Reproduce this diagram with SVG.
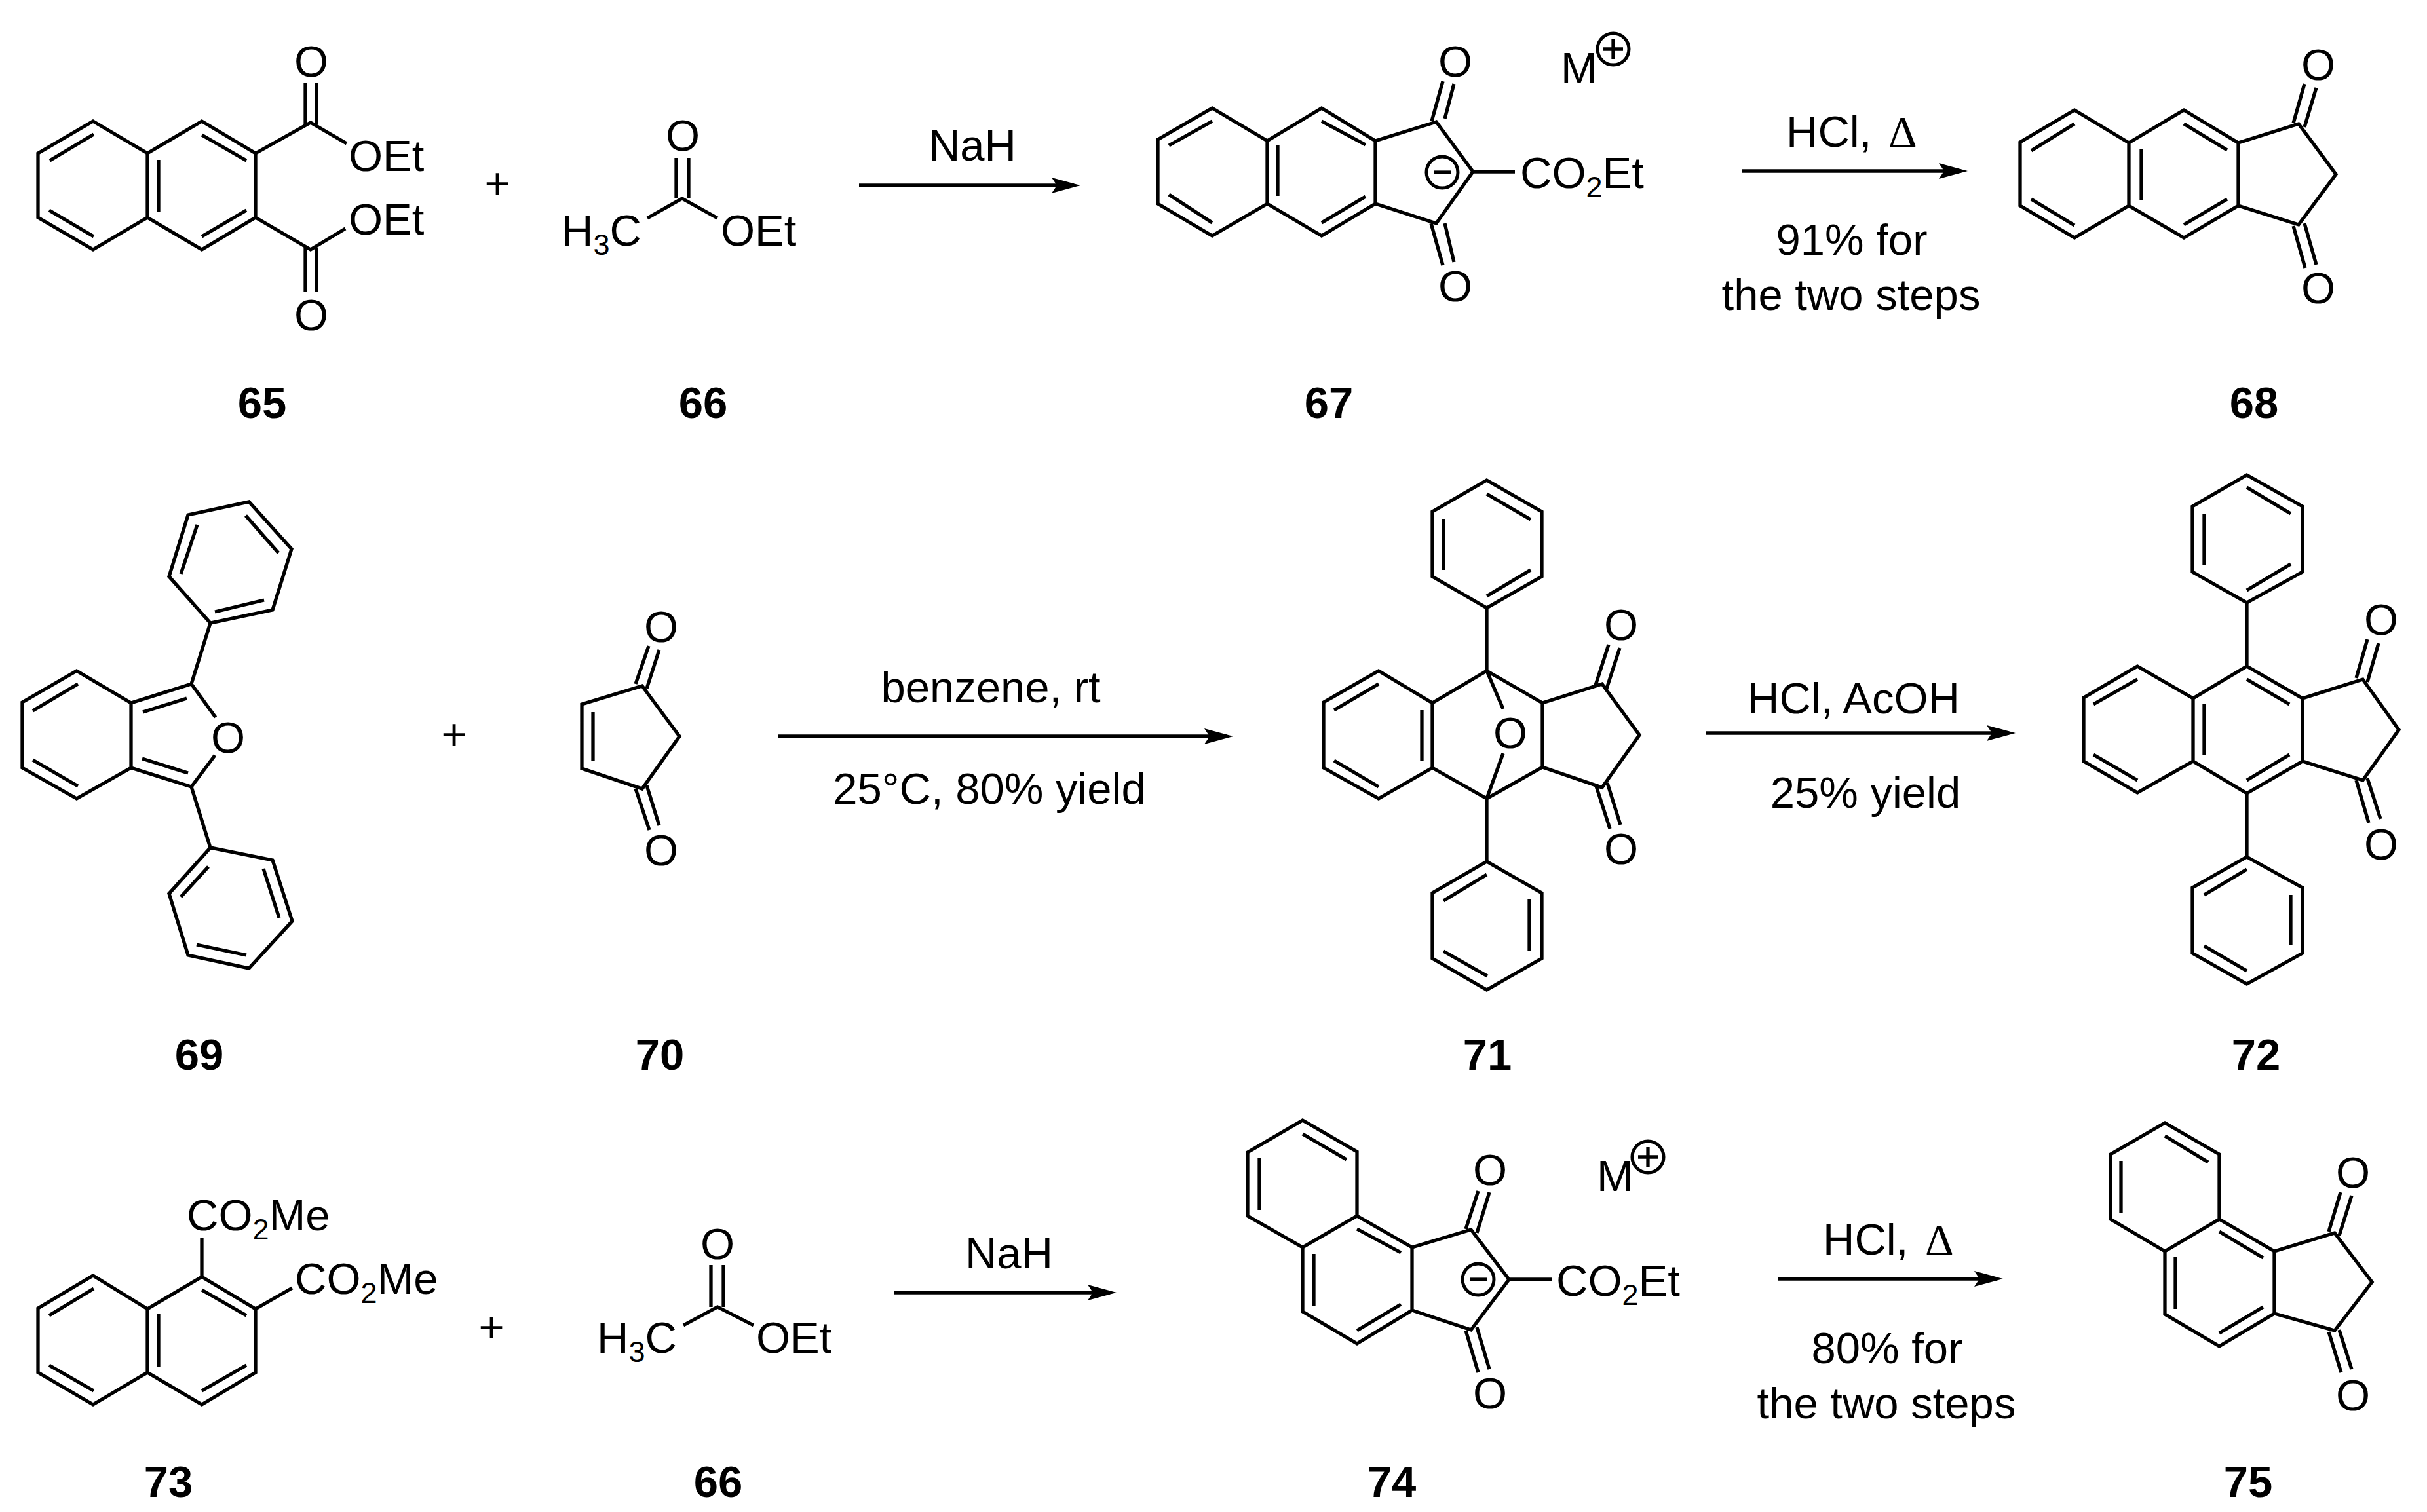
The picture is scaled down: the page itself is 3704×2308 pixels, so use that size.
<svg xmlns="http://www.w3.org/2000/svg" width="3704" height="2308" viewBox="0 0 3704 2308">
<style>
text{font-family:"Liberation Sans",Arial,sans-serif;font-size:67px;fill:#000}
.m{text-anchor:middle}
.l{font-weight:bold;text-anchor:middle}
.g{font-family:"Liberation Serif","Times New Roman",serif;font-size:68px}
.s{font-size:45px}
path{fill:none;stroke:#000;stroke-width:5.3;stroke-linejoin:miter;stroke-miterlimit:6}
.c{fill:none;stroke:#000;stroke-width:5}
.a{stroke-width:5.5}
.h{fill:#000;stroke:none}
</style>
<defs>
<marker id="ah" markerUnits="userSpaceOnUse" markerWidth="46" markerHeight="28" refX="34" refY="14" orient="auto"><path class="h" d="M0 2L44 14L0 26L8 14Z"/></marker>
</defs>
<rect width="3704" height="2308" fill="#fff"/>

<g id="connectors">
<path class="a" marker-end="url(#ah)" d="M1311 283H1639"/>
<path class="a" marker-end="url(#ah)" d="M2659 261H2993"/>
<path class="a" marker-end="url(#ah)" d="M1188 1124H1872"/>
<path class="a" marker-end="url(#ah)" d="M2604 1119H3066"/>
<path class="a" marker-end="url(#ah)" d="M1365 1973H1694"/>
<path class="a" marker-end="url(#ah)" d="M2713 1952H3047"/>
</g>

<g id="reaction-text">
<text class="m" x="1484" y="245">NaH</text>
<text x="2726" y="224">HCl, <tspan class="g" dx="7">Δ</tspan></text>
<text class="m" x="2826" y="389">91% for</text>
<text class="m" x="2825" y="473">the two steps</text>
<text class="m" x="1512" y="1072">benzene, rt</text>
<text class="m" x="1510" y="1227">25°C, 80% yield</text>
<text class="m" x="2829" y="1089">HCl, AcOH</text>
<text class="m" x="2847" y="1233">25% yield</text>
<text class="m" x="1540" y="1936">NaH</text>
<text x="2782" y="1915">HCl, <tspan class="g" dx="7">Δ</tspan></text>
<text class="m" x="2880" y="2081">80% for</text>
<text class="m" x="2879" y="2165">the two steps</text>
</g>

<g id="plus-signs">
<text class="m" x="759" y="303">+</text>
<text class="m" x="693" y="1144">+</text>
<text class="m" x="750" y="2049">+</text>
</g>

<g id="c65">
<path d="M142 185L58 234V332L142 381L225 332L308 381L390 332V234L308 185L225 234ZM225 234V332M143 205L76 245M75 321L143 361M242 244V323M308 206L376 245M308 361L376 321M390 234L474 187L529 219M390 332L474 381L527 349M466 126V190M483 126V190M466 378V446M483 378V446"/>
<text class="m" x="475" y="117">O</text>
<text x="532" y="261">OEt</text>
<text x="532" y="358">OEt</text>
<text class="m" x="475" y="504">O</text>
<text class="l" x="400" y="638">65</text>
</g>

<g id="c66a">
<path d="M988 333L1041 303L1095 333M1032 241V303M1051 241V303"/>
<text class="m" x="1042" y="230">O</text>
<text x="857" y="375">H<tspan class="s" dy="14">3</tspan><tspan dy="-14">C</tspan></text>
<text x="1100" y="375">OEt</text>
<text class="l" x="1073" y="638">66</text>
</g>

<g id="c67">
<path d="M1850 165L1767 213V311L1850 360L1934 311L2017 360L2099 311V215L2017 165L1934 215ZM1934 215V311M2099 215V311M1850 185L1784 222M1784 297L1850 340M1950 221V299M2017 185L2084 221M2017 340L2084 300M2099 215L2192 186L2248 262L2192 341L2099 311M2185 185L2202 124M2205 181L2219 128M2184 341L2202 405M2205 341L2219 400M2248 262H2312"/>
<text class="m" x="2221" y="117">O</text>
<text class="m" x="2221" y="460">O</text>
<text x="2320" y="287">CO<tspan class="s" dy="14">2</tspan><tspan dy="-14">Et</tspan></text>
<circle class="c" cx="2201" cy="263" r="24"/>
<path d="M2188 263H2214"/>
<text x="2382" y="127">M</text>
<circle class="c" cx="2462" cy="75" r="24"/>
<path d="M2447 75H2477M2462 60V90"/>
<text class="l" x="2028" y="638">67</text>
</g>

<g id="c68">
<path d="M3166 168L3083 217V314L3166 363L3249 314L3333 363L3416 314V218L3333 168L3249 218ZM3249 218V314M3166 189L3100 230M3100 304L3166 344M3268 227V306M3333 189L3399 229M3333 343L3399 304M3416 218L3508 189L3565 266L3508 343L3416 314M3500 188L3517 128M3517 194L3535 134M3500 345L3518 409M3517 341L3535 404"/>
<text class="m" x="3538" y="122">O</text>
<text class="m" x="3538" y="463">O</text>
<text class="l" x="3440" y="638">68</text>
</g>

<g id="c69">
<path d="M117 1024L34 1072V1172L117 1219L200 1172V1073ZM200 1073L292 1044L329 1095M200 1172L292 1201L328 1153M218 1087L285 1066M217 1158L287 1180M50 1085L119 1044M50 1160L119 1200M292 1044L321 951M292 1201L321 1294"/>
<path d="M321 951L258 880L287 786L380 766L445 838L416 931ZM276 876L301 801M375 787L425 844M403 916L328 934"/>
<path d="M321 1294L258 1364L287 1458L380 1478L446 1406L416 1313ZM276 1369L318 1323M300 1442L376 1458M426 1401L402 1326"/>
<text class="m" x="348" y="1149">O</text>
<text class="l" x="304" y="1633">69</text>
</g>

<g id="c70">
<path d="M980 1047L888 1075V1173L980 1204L1037 1124ZM905 1087V1161M970 1044L990 986M987 1051L1006 992M970 1204L991 1267M987 1199L1006 1260"/>
<text class="m" x="1009" y="980">O</text>
<text class="m" x="1009" y="1321">O</text>
<text class="l" x="1007" y="1633">70</text>
</g>

<g id="c71">
<path d="M2104 1024L2020 1072V1172L2104 1219L2186 1172V1073ZM2104 1044L2036 1084M2170 1084V1161M2036 1161L2104 1201M2186 1073L2269 1024L2354 1073V1171L2269 1219L2186 1172M2269 1024L2294 1082M2269 1219L2294 1150M2269 1024V928M2269 1219V1315"/>
<path d="M2269 733L2186 781V880L2269 928L2353 880V781ZM2269 754L2336 793M2203 792V870M2269 910L2336 870"/>
<path d="M2269 1315L2186 1363V1463L2269 1511L2353 1463V1363ZM2269 1335L2203 1375M2334 1373V1452M2203 1452L2270 1490"/>
<path d="M2354 1073L2445 1044L2502 1122L2445 1202L2354 1171M2435 1046L2455 984M2452 1051L2472 989M2436 1200L2457 1265M2453 1195L2473 1259"/>
<text class="m" x="2305" y="1142">O</text>
<text class="m" x="2474" y="977">O</text>
<text class="m" x="2474" y="1319">O</text>
<text class="l" x="2270" y="1633">71</text>
</g>

<g id="c72">
<path d="M3429 1017L3514 1066V1162L3429 1211L3347 1162V1066ZM3429 1037L3494 1075M3364 1075V1152M3494 1152L3429 1191M3347 1066L3262 1017L3180 1065V1162L3262 1210L3347 1162M3262 1037L3195 1075M3195 1152L3262 1191M3429 1017V920M3429 1211V1308"/>
<path d="M3429 725L3346 773V873L3429 920L3514 873V773ZM3429 744L3496 784M3364 784V862M3429 901L3496 861"/>
<path d="M3429 1308L3346 1355V1455L3429 1502L3514 1455V1355ZM3429 1327L3364 1366M3496 1366V1442M3364 1444L3429 1482"/>
<path d="M3514 1066L3606 1037L3661 1114L3606 1191L3514 1162M3596 1035L3613 976M3613 1041L3630 982M3596 1191L3615 1256M3613 1188L3633 1250"/>
<text class="m" x="3634" y="969">O</text>
<text class="m" x="3634" y="1312">O</text>
<text class="l" x="3443" y="1633">72</text>
</g>

<g id="c73">
<path d="M142 1947L58 1997V2095L142 2144L225 2095L308 2144L390 2095V1998L308 1949L225 1998ZM225 1998V2095M143 1967L75 2008M75 2084L143 2123M242 2005V2086M308 1969L376 2008M308 2123L376 2084M308 1949V1889M390 1998L446 1966"/>
<text x="285" y="1878">CO<tspan class="s" dy="14">2</tspan><tspan dy="-14">Me</tspan></text>
<text x="450" y="1975">CO<tspan class="s" dy="14">2</tspan><tspan dy="-14">Me</tspan></text>
<text class="l" x="257" y="2285">73</text>
</g>

<g id="c66b">
<path d="M1043 2023L1095 1995L1150 2023M1085 1931V1995M1104 1931V1995"/>
<text class="m" x="1095" y="1922">O</text>
<text x="911" y="2065">H<tspan class="s" dy="14">3</tspan><tspan dy="-14">C</tspan></text>
<text x="1154" y="2065">OEt</text>
<text class="l" x="1096" y="2285">66</text>
</g>

<g id="c74">
<path d="M1988 1710L1904 1759V1856L1988 1904L2071 1856V1758ZM1988 1731L2055 1770M1922 1768V1847M1988 1904V2002L2071 2051L2155 2000V1904L2071 1856M2071 1876L2138 1912M2005 1914V1993M2071 2031L2138 1991M2155 1904L2245 1877L2303 1953L2245 2030L2155 2000M2237 1876L2256 1818M2254 1882L2273 1820M2237 2031L2256 2095M2254 2026L2273 2090M2303 1953H2368"/>
<text class="m" x="2274" y="1809">O</text>
<text class="m" x="2274" y="2150">O</text>
<text x="2375" y="1978">CO<tspan class="s" dy="14">2</tspan><tspan dy="-14">Et</tspan></text>
<circle class="c" cx="2256" cy="1953" r="24"/>
<path d="M2243 1953H2269"/>
<text x="2437" y="1818">M</text>
<circle class="c" cx="2515" cy="1766" r="24"/>
<path d="M2500 1766H2530M2515 1751V1781"/>
<text class="l" x="2124" y="2285">74</text>
</g>

<g id="c75">
<path d="M3304 1714L3221 1762V1861L3304 1910L3387 1861V1762ZM3304 1734L3370 1774M3237 1772V1852M3304 1910V2006L3387 2055L3471 2005V1910L3387 1861M3387 1880L3454 1920M3320 1918V1998M3387 2035L3454 1995M3471 1910L3563 1882L3620 1957L3563 2031L3471 2005M3554 1880L3572 1820M3570 1886L3589 1825M3554 2033L3573 2095M3570 2030L3589 2090"/>
<text class="m" x="3591" y="1813">O</text>
<text class="m" x="3591" y="2153">O</text>
<text class="l" x="3431" y="2285">75</text>
</g>
</svg>
